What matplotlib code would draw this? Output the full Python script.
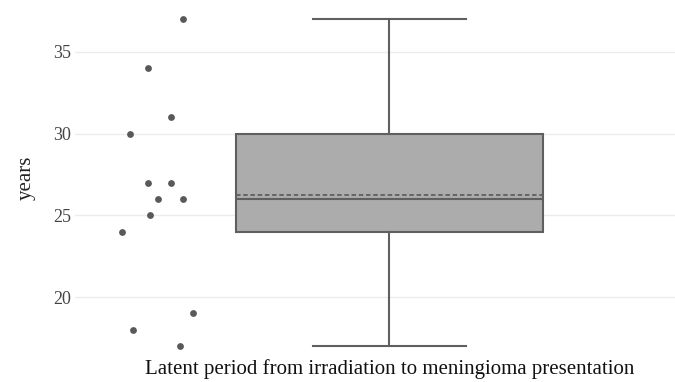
import matplotlib.pyplot as plt

# latent period values (years)
years = [37, 34, 31, 30, 27, 27, 26, 26, 25, 24, 19, 18, 17]
# horizontal jitter of the plotted points (box centred at 0, box width 1)
jitter = [-0.673, -0.787, -0.712, -0.845, -0.786, -0.712, -0.754, -0.673,
          -0.779, -0.871, -0.640, -0.835, -0.682]
yticks = [20, 25, 30, 35]
xlabel = "Latent period from irradiation to meningioma presentation"

plt.rcParams['font.family'] = ['Liberation Serif', 'DejaVu Serif']

fig = plt.figure(figsize=(6.75, 3.82), dpi=100)
ax = fig.add_axes([75 / 675, 1 - 355 / 382, 600 / 675, 355 / 382])

edge = '#5f5f5f'
ax.boxplot([years], positions=[0], widths=1.0, whis=1.5, patch_artist=True,
           showfliers=False, showmeans=True, meanline=True,
           boxprops=dict(facecolor='#acacac', edgecolor=edge, linewidth=1.5),
           medianprops=dict(color=edge, linewidth=1.5),
           meanprops=dict(color=edge, linewidth=1.3, linestyle=(0, (2.5, 1.5))),
           whiskerprops=dict(color=edge, linewidth=1.5),
           capprops=dict(color=edge, linewidth=1.5),
           capwidths=0.5, zorder=3)

ax.scatter(jitter, years, s=24, color='#595959', zorder=4, linewidths=0)

ax.set_xlim(-1.024, 0.930)
ax.set_ylim(16.45, 38.18)
ax.set_yticks(yticks)
ax.set_xticks([])
ax.grid(axis='y', color='#ececec', linewidth=1)
ax.set_axisbelow(True)
for s in ax.spines.values():
    s.set_visible(False)
ax.tick_params(axis='y', length=0, pad=3, labelsize=13, labelcolor='#444444')

ax.set_ylabel('years', fontsize=15, color='#222222', labelpad=12)
fig.text(390 / 675, 1 - 369 / 382, xlabel, ha='center', va='center',
         fontsize=15, color='#111111')

fig.savefig('out.png', dpi=100)
